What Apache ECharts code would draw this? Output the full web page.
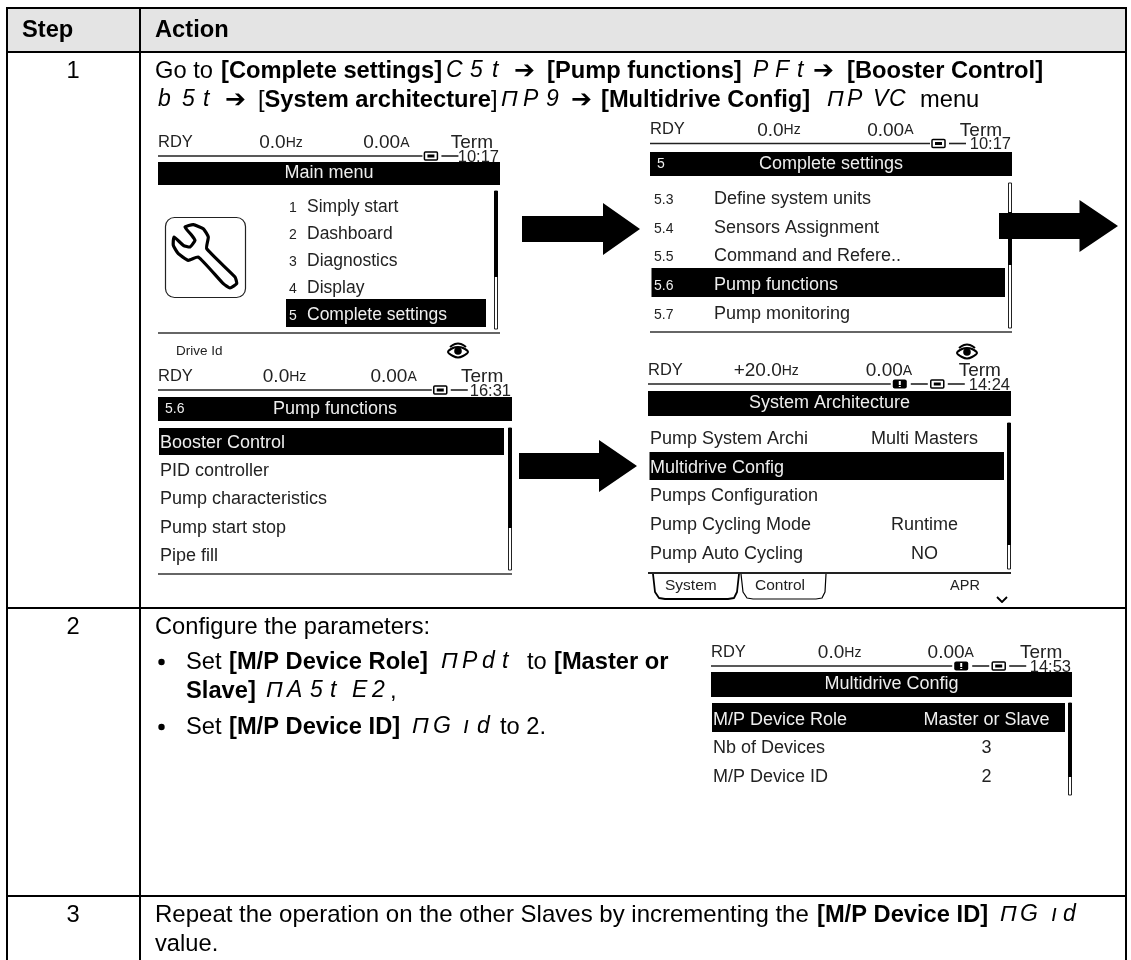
<!DOCTYPE html>
<html>
<head>
<meta charset="utf-8">
<title>Multidrive configuration steps</title>
<script src="https://cdn.jsdelivr.net/npm/echarts@6/dist/echarts.min.js"></script>
<style>
  html, body { margin: 0; padding: 0; background: #fff; }
  #main { width: 1131px; height: 960px; }
</style>
</head>
<body>
<div id="main"></div>
<script>
// table content, the first letter of a part picks its style:
// r regular, b bold, s drive display code, a arrow, w regular slightly wider
const headers = ['Step', 'Action'];
const steps = ['1', '2', '3'];
const stepOneFirst = ['r:Go to', 'b:[Complete settings]', 's:C', 's:5', 's:t', 'a:➔', 'b:[Pump functions]', 's:P', 's:F', 's:t', 'a:➔', 'b:[Booster Control]'];
const stepOneSecond = ['s:b', 's:5', 's:t', 'a:➔', 'r:[', 'b:System architecture', 'r:]', 's:Π', 's:P', 's:9', 'a:➔', 'b:[Multidrive Config]', 's:Π', 's:P', 's:V', 's:C', 'r:menu'];
const stepTwoIntro = 'Configure the parameters:';
const bulletOneFirst = ['r:Set', 'b:[M/P Device Role]', 's:Π', 's:P', 's:d', 's:t', 'r:to', 'b:[Master or'];
const bulletOneSecond = ['b:Slave]', 's:Π', 's:A', 's:5', 's:t', 's:E', 's:2', 'r:,'];
const bulletTwo = ['r:Set', 'b:[M/P Device ID]', 's:Π', 's:G', 's:ı', 's:d', 'r:to 2.'];
const stepThreeFirst = ['w:Repeat the operation on the other Slaves by incrementing the', 'b:[M/P Device ID]', 's:Π', 's:G', 's:ı', 's:d'];
const stepThreeSecond = ['r:value.'];

// keypad screens
const mainMenuNumbers = ['1', '2', '3', '4', '5'];
const mainMenuItems = ['Simply start', 'Dashboard', 'Diagnostics', 'Display', 'Complete settings'];
const completeNumbers = ['5.3', '5.4', '5.5', '5.6', '5.7'];
const completeItems = ['Define system units', 'Sensors Assignment', 'Command and Refere..', 'Pump functions', 'Pump monitoring'];
const pumpItems = ['Booster Control', 'PID controller', 'Pump characteristics', 'Pump start stop', 'Pipe fill'];
const archItems = ['Pump System Archi', 'Multidrive Config', 'Pumps Configuration', 'Pump Cycling Mode', 'Pump Auto Cycling'];
const archValues = ['Multi Masters', '', '', 'Runtime', 'NO'];
const configItems = ['M/P Device Role', 'Nb of Devices', 'M/P Device ID'];
const configValues = ['Master or Slave', '3', '2'];

const BODY = '"Liberation Sans", Arial, sans-serif';
const LCD = '"Liberation Sans", Arial, sans-serif';
const BODY_SIZE = 23.7;
const ROW_SIZE = 18;
const els = [];

const partStyle = {
  r: {},
  w: { size: 24 },
  b: { weight: 'bold' },
  s: { italic: true, size: 23 },
  a: { family: '"DejaVu Sans"', weight: 'bold', size: 25 }
};

function text(x, y, str, o) {
  o = o || {};
  els.push({
    type: 'text', silent: true, z: o.z || 5,
    style: {
      x: x, y: y, text: str, align: o.align || 'left', verticalAlign: 'middle',
      fontFamily: o.family || BODY, fontSize: o.size || BODY_SIZE, fontWeight: o.weight || 'normal',
      fontStyle: o.italic ? 'italic' : 'normal', fill: o.fill || '#000', rich: o.rich
    }
  });
}
function parts(y, list, xs) {
  list.forEach(function (p, i) { text(xs[i], y, p.slice(2), partStyle[p[0]]); });
}
function box(x0, y0, x1, y1, fill, z) {
  els.push({ type: 'rect', silent: true, z: z || 3, shape: { x: x0, y: y0, width: x1 - x0, height: y1 - y0 }, style: { fill: fill } });
}
function line(x0, y0, x1, y1, w, color, z) {
  els.push({ type: 'line', silent: true, z: z || 4, shape: { x1: x0, y1: y0, x2: x1, y2: y1 }, style: { stroke: color || '#000', lineWidth: w || 1 } });
}
function outline(points, w, closed, smooth) {
  els.push({
    type: closed ? 'polygon' : 'polyline', silent: true, z: 4,
    shape: { points: points, smooth: smooth || 0 },
    style: { fill: closed ? '#fff' : 'none', stroke: '#000', lineWidth: w, lineJoin: 'round' }
  });
}
function arrow(x0, yMid, shaftEnd, tip) {
  const s = 13, h = 26;
  els.push({
    type: 'polygon', silent: true, z: 6,
    shape: { points: [[x0, yMid - s], [shaftEnd, yMid - s], [shaftEnd, yMid - h], [tip, yMid], [shaftEnd, yMid + h], [shaftEnd, yMid + s], [x0, yMid + s]] },
    style: { fill: '#000' }
  });
}
function eye(cx, cy) {
  outline([[cx - 10, cy + 1], [cx - 5, cy - 3], [cx, cy - 4], [cx + 5, cy - 3], [cx + 10, cy + 1], [cx + 5, cy + 5], [cx, cy + 6.5], [cx - 5, cy + 5]], 2, true, 0.3);
  outline([[cx - 8, cy - 4], [cx - 3, cy - 7], [cx + 3, cy - 7], [cx + 8, cy - 4]], 2, false, 0.4);
  els.push({ type: 'circle', silent: true, z: 5, shape: { cx: cx, cy: cy, r: 3.8 }, style: { fill: '#000' } });
}
function statusBar(x0, x1, y, hz, time, warn) {
  const w = x1 - x0;
  const rich = { u: { fontFamily: LCD, fontSize: 14, fill: '#222' } };
  text(x0, y, 'RDY', { family: LCD, size: 16.5, fill: '#222' });
  text(x0 + (hz.length > 3 ? 0.236 : 0.296) * w, y + 1, hz + '{u|Hz}', { family: LCD, size: 19, fill: '#222', rich: rich });
  text(x0 + 0.6 * w, y + 1, '0.00{u|A}', { family: LCD, size: 19, fill: '#222', rich: rich });
  text(x0 + 0.856 * w, y + 1, 'Term', { family: LCD, size: 19, fill: '#222' });
  const ly = y + 14;
  const batt = x1 - 0.221 * w;
  line(x0, ly, warn ? batt - 40 : batt - 2, ly, 1.6, '#222');
  if (warn) {
    els.push({ type: 'rect', silent: true, z: 5, shape: { x: batt - 38, y: ly - 4.5, width: 14, height: 9, r: 2 }, style: { fill: '#000' } });
    box(batt - 32, ly - 3, batt - 30, ly + 1, '#fff', 6);
    box(batt - 32, ly + 2, batt - 30, ly + 3, '#fff', 6);
    line(batt - 20, ly, batt - 3, ly, 1.6, '#222');
  }
  els.push({ type: 'rect', silent: true, z: 5, shape: { x: batt, y: ly - 4, width: 13, height: 8, r: 1 }, style: { fill: '#fff', stroke: '#000', lineWidth: 1.5 } });
  box(batt + 3, ly - 1.5, batt + 10, ly + 1.5, '#000', 6);
  line(batt + 17, ly, batt + 34, ly, 1.6, '#222');
  text(x1 - 1, ly + 1, time, { family: LCD, size: 16.5, align: 'right', fill: '#222' });
}
function titleBar(x0, x1, y0, y1, title, num) {
  box(x0, y0, x1, y1, '#000');
  text((x0 + x1) / 2, (y0 + y1) / 2, title, { family: LCD, size: ROW_SIZE, fill: '#eee', align: 'center' });
  if (num) text(x0 + 7, (y0 + y1) / 2, num, { family: LCD, size: 14, fill: '#eee' });
}
function scrollbar(x, y0, yMid0, yMid1, y1) {
  // thin outlined track with the solid thumb in the part that is visible
  els.push({ type: 'rect', silent: true, z: 3, shape: { x: x - 1.5, y: y0, width: 3, height: y1 - y0 }, style: { fill: '#fff', stroke: '#222', lineWidth: 1 } });
  box(x - 2, yMid0, x + 2, yMid1, '#000', 4);
}

// table frame
box(7, 8, 1126, 52, '#e4e4e4', 1);
const hLines = [8, 52, 608, 896];
hLines.forEach(function (y) { line(7, y, 1126, y, 2, '#000', 2); });
line(7, 7, 7, 960, 2, '#000', 2);
line(140, 8, 140, 960, 2, '#000', 2);
line(1126, 7, 1126, 960, 2, '#000', 2);

text(22, 30, headers[0], { weight: 'bold' });
text(155, 30, headers[1], { weight: 'bold' });
const stepY = [71, 627, 915];
steps.forEach(function (s, i) { text(73, stepY[i], s, { align: 'center' }); });

parts(71, stepOneFirst, [155, 221, 446, 470, 492, 514, 547, 753, 775, 797, 813, 847]);
parts(100, stepOneSecond, [158, 182, 203, 225, 258, 264.5, 491, 501, 523, 546, 571, 601, 827, 847, 873, 889, 920]);
text(155, 627, stepTwoIntro);
parts(662, bulletOneFirst, [186, 229, 441, 462, 482, 502, 527, 554]);
parts(691, bulletOneSecond, [186, 266, 287, 310, 330, 352, 372, 390]);
parts(727, bulletTwo, [186, 229, 412, 433, 463, 477, 500]);
[662, 727].forEach(function (y) {
  els.push({ type: 'circle', silent: true, z: 5, shape: { cx: 161.5, cy: y, r: 3.2 }, style: { fill: '#000' } });
});
parts(915, stepThreeFirst, [155, 817, 1000, 1020, 1051, 1063]);
parts(944, stepThreeSecond, [155]);

// screen: Main menu
statusBar(158, 500, 142, '0.0', '10:17');
titleBar(158, 500, 162, 185, 'Main menu');
box(286, 299, 486, 327, '#000');
mainMenuItems.forEach(function (s, i) {
  const y = 207 + i * 27;
  const f = i === 4 ? '#eee' : '#222';
  text(289, y + 1, mainMenuNumbers[i], { family: LCD, size: 14, fill: f });
  text(307, y, s, { family: LCD, size: 17.5, fill: f });
});
scrollbar(496, 191, 191, 277, 329);
line(158, 333, 500, 333, 1.5, '#333');
els.push({ type: 'rect', silent: true, z: 3, shape: { x: 165.5, y: 217.5, width: 80, height: 80, r: 9 }, style: { fill: '#fff', stroke: '#222', lineWidth: 1.2 } });
outline([[185, 227], [193.3, 224.7], [203.3, 228.7], [208.3, 237], [206.7, 248.7], [235, 277], [236.7, 283.7], [230, 288], [223.3, 283.7], [198.3, 257], [188.3, 260.3], [178.3, 253.7], [173.3, 245.3], [174, 237], [183.3, 245.3], [190, 247], [195, 240.3], [191.7, 235.3]], 3.2, true, 0.15);

arrow(522, 229, 603, 640);

// screen: Complete settings
statusBar(650, 1012, 129.5, '0.0', '10:17');
titleBar(650, 1012, 152, 176, 'Complete settings', '5');
box(651.5, 268, 1005, 297, '#000');
completeItems.forEach(function (s, i) {
  const y = 199 + i * 28.75;
  const f = i === 3 ? '#eee' : '#222';
  text(654, y + 1, completeNumbers[i], { family: LCD, size: 14, fill: f });
  text(714, y, s, { family: LCD, size: ROW_SIZE, fill: f });
});
scrollbar(1010, 183, 212, 265, 328);
line(650, 332, 1012, 332, 1.5, '#333');

arrow(999, 226, 1079.5, 1118);

// screen: Pump functions
text(176, 351, 'Drive Id', { family: LCD, size: 13.5, fill: '#222' });
eye(458, 351);
statusBar(158, 512, 376, '0.0', '16:31');
titleBar(158, 512, 397, 421, 'Pump functions', '5.6');
box(159, 428, 504, 455, '#000');
pumpItems.forEach(function (s, i) {
  text(160, 443 + i * 28.25, s, { family: LCD, size: ROW_SIZE, fill: i === 0 ? '#eee' : '#222' });
});
scrollbar(510, 428, 428, 528, 570);
line(158, 574, 512, 574, 1.5, '#333');

arrow(519, 466, 599, 637);

// screen: System Architecture
eye(967, 352);
statusBar(648, 1011, 370, '+20.0', '14:24', true);
titleBar(648, 1011, 391, 416, 'System Architecture');
box(649.5, 452, 1004, 480, '#000');
archItems.forEach(function (s, i) {
  const y = 439 + i * 28.75;
  text(650, y, s, { family: LCD, size: ROW_SIZE, fill: i === 1 ? '#eee' : '#222' });
  if (archValues[i]) text(924.5, y, archValues[i], { family: LCD, size: ROW_SIZE, fill: '#222', align: 'center' });
});
scrollbar(1009, 423, 423, 545, 569);
line(648, 573, 1011, 573, 2, '#222');
outline([[653, 574], [655, 592], [659, 598], [665, 599], [728, 599], [734, 598], [737, 592], [739, 574]], 1.8, false, 0);
outline([[741, 574], [743, 592], [747, 598], [753, 599], [816, 599], [822, 598], [825, 592], [826, 574]], 1.2, false, 0);
text(665, 586, 'System', { family: LCD, size: 15.5, fill: '#222' });
text(755, 586, 'Control', { family: LCD, size: 15.5, fill: '#222' });
text(965, 586, 'APR', { family: LCD, size: 14.5, fill: '#222', align: 'center' });
outline([[997, 597], [1002, 602], [1007, 597]], 1.8, false, 0);

// screen: Multidrive Config
statusBar(711, 1072, 652, '0.0', '14:53', true);
titleBar(711, 1072, 672, 697, 'Multidrive Config');
box(712, 703, 1065, 732, '#000');
configItems.forEach(function (s, i) {
  const y = 720 + i * 28.5;
  const f = i === 0 ? '#eee' : '#222';
  text(713, y, s, { family: LCD, size: ROW_SIZE, fill: f });
  text(986.5, y, configValues[i], { family: LCD, size: ROW_SIZE, fill: f, align: 'center' });
});
scrollbar(1070, 703, 703, 777, 795);

const chart = echarts.init(document.getElementById('main'), null, { renderer: 'canvas' });
chart.setOption({ animation: false, backgroundColor: '#fff', graphic: { elements: els } });
</script>
</body>
</html>
